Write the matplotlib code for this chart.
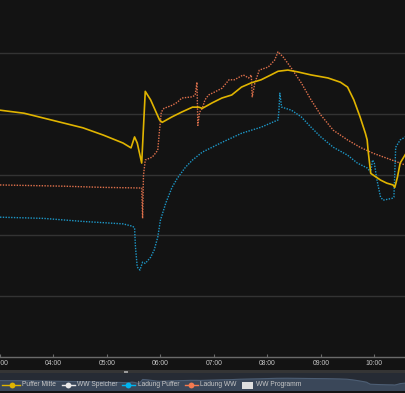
import matplotlib
matplotlib.use("Agg")
import matplotlib.pyplot as plt
from matplotlib.lines import Line2D
from matplotlib.patches import Rectangle
import numpy as np

# ---------------- data ----------------
puffer_t = ["03:00","03:27","03:49","04:11","04:33","04:56","05:18","05:27","05:31","05:34","05:39",
            "05:43","05:49","05:59","06:02","06:13","06:24","06:36","06:43","06:47","06:58","07:09",
            "07:20","07:31","07:42","07:53","08:04","08:12","08:23","08:34","08:49","09:08","09:22",
            "09:30","09:37","09:44","09:50","09:52","09:53","09:56","09:59","10:07","10:14","10:21",
            "10:23","10:26","10:29","10:36"]
puffer_v = [50.6,50.1,49.3,48.5,47.7,46.5,45.2,44.4,46.2,45.2,41.9,
            53.7,52.3,49.0,48.6,49.5,50.3,51.1,51.1,50.9,51.8,52.6,
            53.1,54.4,55.1,55.6,56.4,57.0,57.2,56.9,56.4,55.9,55.2,
            54.4,52.3,49.5,46.8,45.7,44.0,40.2,39.9,39.1,38.6,38.3,
            37.9,39.6,41.9,43.6]

ww_t = ["03:00","04:11","04:56","05:38","05:39","05:40","05:41","05:43","05:51","05:57","05:59",
        "06:01","06:04","06:13","06:19","06:24","06:36","06:39","06:41","06:42","06:44","06:47",
        "06:50","06:54","07:01","07:09","07:17","07:23","07:33","07:39","07:42","07:43","07:46",
        "07:51","08:01","08:08","08:12","08:18","08:27","08:38","08:49","09:00","09:14","09:30",
        "09:44","09:59","10:14","10:29","10:36"]
ww_v = [38.3,38.1,37.9,37.8,37.8,32.8,39.9,42.4,42.9,44.0,47.3,
        50.3,50.9,51.4,51.9,52.6,52.8,53.1,55.2,48.1,50.3,50.9,
        52.3,53.1,53.6,54.2,55.6,55.6,56.4,55.9,56.4,52.8,55.1,
        57.2,57.7,58.8,60.2,59.3,57.5,55.1,52.3,49.8,47.3,45.7,
        44.5,43.5,42.7,41.9,41.5]

lp_t = ["03:00","03:49","04:33","05:18","05:29","05:31","05:32","05:34","05:37","05:40","05:43",
        "05:49","05:53","05:57","06:00","06:06","06:13","06:19","06:28","06:36","06:47","07:09",
        "07:31","07:53","08:12","08:13","08:14","08:16","08:27","08:38","08:49","09:00","09:14",
        "09:30","09:41","09:52","09:56","09:58","10:00","10:03","10:07","10:10","10:20","10:22",
        "10:23","10:24","10:29","10:36"]
lp_v = [33.0,32.8,32.3,31.9,31.5,31.2,28.1,24.8,24.3,25.6,25.4,
        26.4,27.6,29.7,32.5,35.3,37.9,39.4,41.2,42.4,43.7,45.3,
        46.8,47.8,49.0,50.6,53.4,51.1,50.6,49.5,47.8,46.2,44.5,
        43.2,41.9,41.1,40.4,42.4,41.9,39.1,36.3,35.8,36.1,36.3,
        40.4,44.5,45.7,46.3]

tick_hours = [3, 4, 5, 6, 7, 8, 9, 10]
tick_labels = ["03:00", "04:00", "05:00", "06:00", "07:00", "08:00", "09:00", "10:00"]
grid_values = [20, 30, 40, 50, 60]
legend_names = ["Puffer Mitte", "WW Speicher", "Ladung Puffer", "Ladung WW", "WW Programm"]

def hrs(ts):
    return np.array([int(s[:2]) + int(s[3:]) / 60.0 for s in ts])

# ---------------- style ----------------
W, H = 405, 393
BG = "#131313"
C_PUF = "#e0b400"
C_WW = "#e0714c"
C_LP = "#1d98c8"
C_TXT = "#c8c8c8"
FONT = "Liberation Sans"

def fx(x): return x / W
def fy(y): return 1 - y / H

fig = plt.figure(figsize=(W / 100, H / 100), dpi=100, facecolor=BG)

xmin, xmax = 3 + 4 / 54, 3 + 409 / 54
ymin, ymax = 10, 60 + 53 / 6.075

ax = fig.add_axes([0, fy(357), 1, 357 / H], facecolor=BG)
ax.set_xlim(xmin, xmax)
ax.set_ylim(ymin, ymax)
for s in ["top", "left", "right"]:
    ax.spines[s].set_visible(False)
ax.spines["bottom"].set_color("#6a6a6a")
ax.spines["bottom"].set_linewidth(1)
ax.set_yticks(grid_values)
ax.set_yticklabels([])
ax.tick_params(axis="y", length=0)
ax.grid(axis="y", color="#333333", linewidth=1)
ax.set_xticks(tick_hours)
ax.set_xticklabels(tick_labels, fontsize=4.9, color=C_TXT, fontfamily=FONT)
ax.tick_params(axis="x", direction="in", length=2, color="#6a6a6a", pad=2.5)

ax.plot(hrs(ww_t), ww_v, color=C_WW, lw=1, linestyle=(0, (1, 1)), zorder=3)
ax.plot(hrs(lp_t), lp_v, color=C_LP, lw=1, linestyle=(0, (1, 1)), zorder=3)
ax.plot(hrs(puffer_t), puffer_v, color=C_PUF, lw=1.2, zorder=4)

# ---------------- navigator ----------------
fig.patches.append(Rectangle((0, fy(373)), 1, 3.5 / H, transform=fig.transFigure,
                             facecolor="#353535", edgecolor="none"))
fig.patches.append(Rectangle((fx(124), fy(372.5)), 4 / W, 2 / H, transform=fig.transFigure,
                             facecolor="#9a9a9a", edgecolor="none"))
nav = fig.add_axes([0, fy(391), 1, 18 / H], facecolor="#262b34")
nav.set_xlim(xmin, xmax)
nav.set_ylim(21, 72)
nav.axis("off")
nav.add_patch(Rectangle((0, 0), 1, 1, transform=nav.transAxes, facecolor="#262b34", edgecolor="none"))
nav.fill_between(hrs(puffer_t), 0, puffer_v, color="#3a4759", lw=0)
nav.plot(hrs(puffer_t), puffer_v, color="#4d5e74", lw=0.8)

# ---------------- legend ----------------
ly = fy(385)
items = [
    (2, 20, 12, C_PUF, "line", 22),
    (62, 75, 68, "#e8e8e8", "line", 77),
    (122, 135, 128, "#00b4f0", "line", 138),
    (185, 198, 191, "#f47a50", "line", 200),
    (242, 253, None, "#dedede", "rect", 256),
]
for (x0, x1, xc, col, kind, xt), name in zip(items, legend_names):
    if kind == "line":
        fig.add_artist(Line2D([fx(x0), fx(x1)], [ly, ly], transform=fig.transFigure,
                              color=col, lw=1))
        fig.add_artist(Line2D([fx(xc)], [ly], transform=fig.transFigure, marker="o",
                              markersize=4.2, color=col, markeredgewidth=0))
    else:
        fig.patches.append(Rectangle((fx(x0), fy(389)), (x1 - x0) / W, 7.5 / H,
                                     transform=fig.transFigure, facecolor=col,
                                     edgecolor="none"))
    fig.text(fx(xt), ly, name, fontsize=4.8, color=C_TXT, fontfamily=FONT,
             va="center", ha="left")

fig.savefig("out.png", dpi=100, facecolor=BG)
